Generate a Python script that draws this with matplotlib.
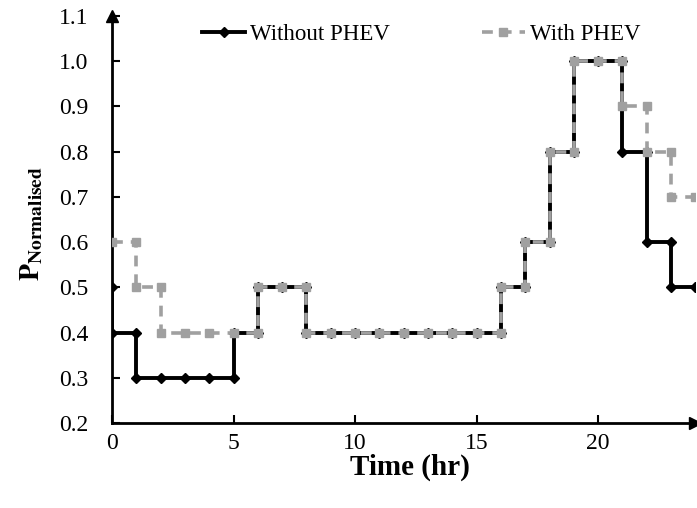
import numpy as np
import matplotlib
matplotlib.use("Agg")
import matplotlib.pyplot as plt

plt.rcParams['font.family'] = ['Liberation Serif', 'DejaVu Serif']
plt.rcParams['mathtext.fontset'] = 'stix'

# step corner points, hour / normalised power
time_without = [0, 0, 1, 1, 2, 3, 4, 5, 5, 6, 6, 7, 8, 8, 9, 10, 11, 12, 13, 14, 15, 16,
                16, 17, 17, 18, 18, 19, 19, 20, 21, 21, 22, 22, 23, 23, 24]
p_without = [0.5, 0.4, 0.4, 0.3, 0.3, 0.3, 0.3, 0.3, 0.4, 0.4, 0.5, 0.5, 0.5, 0.4, 0.4, 0.4,
             0.4, 0.4, 0.4, 0.4, 0.4, 0.4, 0.5, 0.5, 0.6, 0.6, 0.8, 0.8, 1.0, 1.0, 1.0, 0.8,
             0.8, 0.6, 0.6, 0.5, 0.5]

time_with = [0, 1, 1, 2, 2, 3, 4, 5, 6, 6, 7, 8, 8, 9, 10, 11, 12, 13, 14, 15, 16,
             16, 17, 17, 18, 18, 19, 19, 20, 21, 21, 22, 22, 23, 23, 24]
p_with = [0.6, 0.6, 0.5, 0.5, 0.4, 0.4, 0.4, 0.4, 0.4, 0.5, 0.5, 0.5, 0.4, 0.4, 0.4, 0.4,
          0.4, 0.4, 0.4, 0.4, 0.4, 0.5, 0.5, 0.6, 0.6, 0.8, 0.8, 1.0, 1.0, 1.0, 0.9, 0.9,
          0.8, 0.8, 0.7, 0.7]

x_ticks = [0, 5, 10, 15, 20]
y_ticks = [0.2, 0.3, 0.4, 0.5, 0.6, 0.7, 0.8, 0.9, 1.0, 1.1]

fig = plt.figure(figsize=(6.97, 5.08), dpi=100)
ax = fig.add_axes([0.1607, 0.1673, 0.837, 0.8012])

ax.plot(time_without, p_without, color='black', lw=2.8, marker='D', ms=5.5,
        label='Without PHEV', zorder=3)
ax.plot(time_with, p_with, color='#a0a0a0', lw=2.6, ls=(0, (3, 2.2)), marker='s', ms=6,
        label='With PHEV', zorder=4)

ax.set_xlim(0, 24)
ax.set_ylim(0.2, 1.1)
ax.set_xticks(x_ticks)
ax.set_xticklabels([str(v) for v in x_ticks])
ax.set_yticks(y_ticks)
ax.set_yticklabels(['%.1f' % v for v in y_ticks])
ax.tick_params(direction='in', length=6, width=1.5, labelsize=17)
ax.tick_params(axis='x', pad=7)
ax.tick_params(axis='y', pad=17)

for s in ['top', 'right']:
    ax.spines[s].set_visible(False)
for s in ['left', 'bottom']:
    ax.spines[s].set_linewidth(2)

# axis arrows
ax.plot(1, 0, '>', color='black', ms=8, transform=ax.transAxes, clip_on=False)
ax.plot(0, 1, '^', color='black', ms=8, transform=ax.transAxes, clip_on=False)

ax.set_xlabel('Time (hr)', fontsize=21, fontweight='bold')
ax.xaxis.set_label_coords(0.51, -0.075)
ax.set_ylabel(r'$\mathbf{P}_{\mathbf{Normalised}}$', fontsize=20)
ax.yaxis.set_label_coords(-0.116, 0.49)

fig.legend(loc='center', bbox_to_anchor=(0.604, 0.933), ncol=2, frameon=False,
           fontsize=16.5, columnspacing=4.0, handlelength=1.9, handletextpad=0.2)

fig.savefig('out.png', dpi=100)
